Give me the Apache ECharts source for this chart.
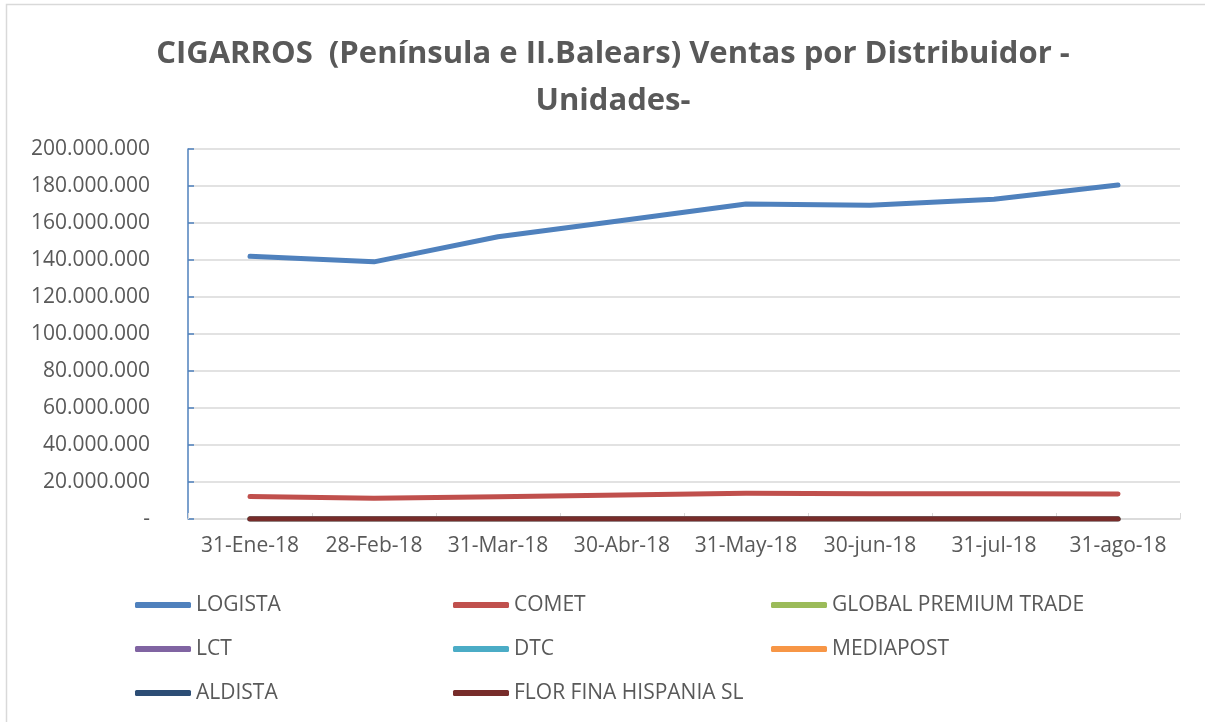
<!DOCTYPE html>
<html lang="es">
<head>
    <meta charset="UTF-8">
    <title>CIGARROS Ventas por Distribuidor</title>
    <script type="text/javascript" src="https://cdn.jsdelivr.net/npm/echarts@6/dist/echarts.min.js"></script>
</head>
<style>
    html, body {
        margin: 0;
        padding: 0;
        background-color: #fff;
    }
    #chart {
        width: 1205px;
        height: 722px;
    }
</style>
<body>
<div id="chart"></div>
</body>
<script>
    // datos
    var fechas = ['31-Ene-18', '28-Feb-18', '31-Mar-18', '30-Abr-18', '31-May-18', '30-jun-18', '31-jul-18', '31-ago-18'];

    var logista   = [142000000, 139000000, 152600000, 161300000, 170300000, 169600000, 172800000, 180500000];
    var comet     = [12100000, 11200000, 12000000, 13000000, 13900000, 13700000, 13700000, 13500000];
    var globalPT  = [150000, 180000, 200000, 210000, 220000, 200000, 210000, 220000];
    var lct       = [60000, 55000, 60000, 65000, 70000, 70000, 68000, 70000];
    var dtc       = [20000, 18000, 20000, 22000, 25000, 24000, 24000, 25000];
    var mediapost = [10000, 9000, 10000, 11000, 12000, 12000, 12000, 12000];
    var aldista   = [5000, 5000, 6000, 6000, 7000, 7000, 7000, 7000];
    var florFina  = [30000, 28000, 32000, 35000, 38000, 36000, 37000, 39000];

    var yMax = 200000000;
    var yStep = 20000000;

    var nombres = ['LOGISTA', 'COMET', 'GLOBAL PREMIUM TRADE', 'LCT', 'DTC', 'MEDIAPOST', 'ALDISTA', 'FLOR FINA HISPANIA SL'];
    var colores = ['#4F81BD', '#C0504D', '#9BBB59', '#8064A2', '#4BACC6', '#F79646', '#2C4D75', '#772C2A'];
    var datos = [logista, comet, globalPT, lct, dtc, mediapost, aldista, florFina];

    function formatoMiles(v) {
        if (v === 0) return '-';
        return String(v).replace(/\B(?=(\d{3})+(?!\d))/g, '.');
    }

    var series = [];
    for (var i = 0; i < nombres.length; i++) {
        series.push({
            name: nombres[i],
            type: 'line',
            data: datos[i],
            symbol: 'none',
            showSymbol: false,
            itemStyle: { color: colores[i] },
            lineStyle: { color: colores[i], width: 5, cap: 'round', join: 'round' }
        });
    }

    var legendBase = {
        orient: 'vertical',
        icon: 'roundRect',
        itemWidth: 56,
        itemHeight: 6,
        itemGap: 20,
        top: 588,
        textStyle: {
            fontFamily: 'Open Sans',
            fontSize: 21,
            color: '#595959',
            lineHeight: 24
        }
    };

    function legendCol(left, items) {
        var l = Object.assign({}, legendBase);
        l.left = left;
        l.data = items;
        return l;
    }

    var myChart = echarts.init(document.getElementById('chart'));

    var option = {
        backgroundColor: '#fff',
        animation: false,
        graphic: [{
            type: 'rect',
            shape: { x: 6.5, y: 4.5, width: 1205, height: 725 },
            style: { fill: 'none', stroke: '#D9D9D9', lineWidth: 1.5 },
            silent: true
        }],
        title: {
            text: 'CIGARROS  (Península e II.Balears) Ventas por Distribuidor -\nUnidades-',
            left: 608,
            textAlign: 'center',
            top: 26,
            textStyle: {
                fontFamily: 'Open Sans',
                fontWeight: 'bold',
                fontSize: 31,
                lineHeight: 47,
                color: '#595959'
            }
        },
        legend: [
            legendCol(130, ['LOGISTA', 'LCT', 'ALDISTA']),
            legendCol(448, ['COMET', 'DTC', 'FLOR FINA HISPANIA SL']),
            legendCol(766, ['GLOBAL PREMIUM TRADE', 'MEDIAPOST'])
        ],
        grid: {
            left: 188,
            right: 25,
            top: 149,
            bottom: 203
        },
        xAxis: {
            type: 'category',
            data: fechas,
            boundaryGap: true,
            axisLine: { lineStyle: { color: '#D9D9D9', width: 1.5 } },
            axisTick: { show: true, inside: true, length: 6, interval: 0, lineStyle: { color: '#D9D9D9' } },
            axisLabel: {
                fontFamily: 'Open Sans',
                fontSize: 21,
                color: '#595959',
                margin: 17,
                interval: 0
            },
            splitLine: { show: false }
        },
        yAxis: {
            type: 'value',
            min: 0,
            max: yMax,
            interval: yStep,
            axisLine: { show: true, lineStyle: { color: '#4F81BD', width: 1.5 } },
            axisTick: { show: true, inside: true, length: 6, lineStyle: { color: '#4F81BD', width: 1.5 } },
            axisLabel: {
                fontFamily: 'Open Sans',
                fontSize: 21,
                color: '#595959',
                margin: 38,
                formatter: formatoMiles
            },
            splitLine: { show: true, lineStyle: { color: '#D9D9D9', width: 1.5 } }
        },
        series: series
    };

    myChart.setOption(option);
</script>
</html>
